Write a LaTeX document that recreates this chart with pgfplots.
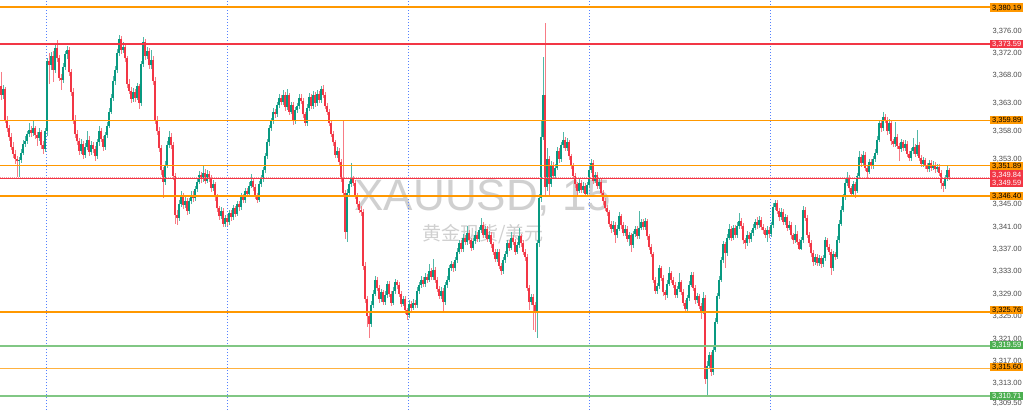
\documentclass[border=0pt]{standalone}
\usepackage{pgfplots}
\pgfplotsset{compat=1.18}
\usepackage{pgfplotstable}
\usepackage{fontspec}
\setmainfont{Liberation Sans}
\newfontfamily\cjk{Noto Sans CJK SC}

\definecolor{upc}{HTML}{089981}
\definecolor{dnc}{HTML}{F23645}
\definecolor{lvlorange}{HTML}{FF9800}
\definecolor{lvlred}{HTML}{F23645}
\definecolor{lvlgreen}{HTML}{81C784}
\definecolor{lblgreen}{HTML}{4CAF50}
\definecolor{sess}{HTML}{2962FF}
\definecolor{wm}{HTML}{D0D0D0}

% XAUUSD 15m candles: index, open, high, low, close
\pgfplotstableread{
i o h l c
0 3366.0 3368.5 3363.6 3364.5
1 3364.5 3366.2 3363.8 3365.5
2 3365.5 3365.9 3359.4 3360.0
3 3360.0 3360.8 3357.9 3358.5
4 3358.5 3359.2 3356.3 3357.0
5 3357.0 3357.6 3354.6 3355.2
6 3355.2 3356.1 3353.2 3354.0
7 3354.0 3354.7 3352.2 3353.0
8 3353.0 3353.6 3349.8 3352.6
9 3352.6 3353.4 3349.9 3352.8
10 3352.8 3354.8 3352.3 3354.2
11 3354.2 3356.4 3353.7 3355.8
12 3355.8 3357.1 3355.2 3356.3
13 3356.3 3358.0 3355.8 3357.5
14 3357.5 3359.5 3357.0 3358.2
15 3358.2 3358.9 3356.9 3357.6
16 3357.6 3360.0 3357.1 3358.5
17 3358.5 3359.0 3356.6 3357.3
18 3357.3 3357.9 3355.4 3356.8
19 3356.8 3358.6 3356.2 3357.8
20 3357.8 3358.3 3354.9 3355.5
21 3355.5 3356.2 3353.9 3354.9
22 3354.9 3358.6 3354.3 3358.0
23 3358.0 3371.0 3357.2 3370.5
24 3370.5 3372.0 3366.5 3369.8
25 3369.8 3372.2 3369.0 3371.5
26 3371.5 3372.4 3366.8 3369.0
27 3369.0 3373.4 3368.4 3372.8
28 3372.8 3374.3 3370.3 3371.0
29 3371.0 3371.6 3366.9 3367.5
30 3367.5 3368.3 3365.3 3367.2
31 3367.2 3370.2 3366.6 3369.5
32 3369.5 3372.3 3369.0 3371.8
33 3371.8 3373.3 3370.9 3372.5
34 3372.5 3373.0 3367.8 3368.5
35 3368.5 3369.2 3364.3 3365.0
36 3365.0 3365.8 3359.3 3360.0
37 3360.0 3360.9 3356.8 3357.5
38 3357.5 3358.2 3355.5 3356.2
39 3356.2 3356.8 3353.8 3354.5
40 3354.5 3356.6 3354.0 3355.8
41 3355.8 3356.3 3353.1 3353.8
42 3353.8 3355.9 3353.3 3355.2
43 3355.2 3358.0 3354.6 3356.5
44 3356.5 3357.1 3353.6 3354.3
45 3354.3 3356.2 3353.7 3355.5
46 3355.5 3356.0 3354.1 3354.8
47 3354.8 3355.3 3352.6 3353.5
48 3353.5 3356.7 3353.0 3356.0
49 3356.0 3358.9 3355.4 3358.0
50 3358.0 3358.6 3356.0 3356.6
51 3356.6 3357.2 3354.5 3355.2
52 3355.2 3357.9 3354.7 3357.3
53 3357.3 3359.6 3356.8 3359.0
54 3359.0 3362.2 3358.5 3361.5
55 3361.5 3364.6 3361.0 3364.0
56 3364.0 3367.8 3363.4 3367.0
57 3367.0 3369.7 3366.3 3369.0
58 3369.0 3372.6 3368.4 3372.0
59 3372.0 3375.1 3371.4 3374.5
60 3374.5 3375.0 3371.8 3372.5
61 3372.5 3373.9 3371.9 3373.0
62 3373.0 3373.6 3370.3 3371.0
63 3371.0 3371.5 3365.8 3366.5
64 3366.5 3367.3 3364.6 3365.2
65 3365.2 3365.9 3363.0 3363.8
66 3363.8 3365.8 3363.2 3365.0
67 3365.0 3365.6 3363.3 3364.0
68 3364.0 3366.7 3363.5 3366.0
69 3366.0 3366.5 3362.0 3363.0
70 3363.0 3370.6 3362.5 3370.0
71 3370.0 3374.8 3369.4 3374.0
72 3374.0 3374.5 3370.8 3371.5
73 3371.5 3373.0 3370.9 3372.3
74 3372.3 3372.8 3369.1 3369.8
75 3369.8 3372.5 3369.2 3370.8
76 3370.8 3371.4 3366.3 3367.0
77 3367.0 3367.6 3359.3 3360.0
78 3360.0 3360.8 3357.3 3358.0
79 3358.0 3358.7 3354.3 3355.0
80 3355.0 3355.6 3350.2 3351.0
81 3351.0 3351.7 3346.0 3349.0
82 3349.0 3352.7 3348.4 3352.0
83 3352.0 3356.2 3351.5 3355.5
84 3355.5 3358.0 3355.0 3357.0
85 3357.0 3357.6 3354.8 3355.5
86 3355.5 3356.1 3349.3 3350.0
87 3350.0 3350.6 3341.5 3343.0
88 3343.0 3343.9 3341.2 3342.5
89 3342.5 3345.7 3342.0 3345.0
90 3345.0 3347.3 3344.4 3346.5
91 3346.5 3347.0 3344.1 3344.8
92 3344.8 3346.2 3344.2 3345.5
93 3345.5 3346.0 3343.1 3343.8
94 3343.8 3346.1 3343.2 3345.5
95 3345.5 3347.4 3345.0 3346.7
96 3346.7 3347.3 3345.4 3346.0
97 3346.0 3348.3 3345.5 3347.6
98 3347.6 3349.7 3347.1 3349.0
99 3349.0 3350.9 3348.5 3350.2
100 3350.2 3350.8 3348.8 3349.5
101 3349.5 3351.9 3349.0 3350.6
102 3350.6 3351.2 3348.6 3349.2
103 3349.2 3351.0 3348.7 3350.4
104 3350.4 3350.9 3349.0 3349.6
105 3349.6 3350.1 3347.2 3347.8
106 3347.8 3349.3 3347.3 3348.5
107 3348.5 3349.0 3345.6 3346.2
108 3346.2 3346.8 3343.6 3344.2
109 3344.2 3344.7 3342.1 3342.8
110 3342.8 3344.5 3342.3 3343.8
111 3343.8 3344.3 3340.9 3341.5
112 3341.5 3343.1 3340.9 3342.5
113 3342.5 3343.0 3341.1 3341.8
114 3341.8 3344.0 3341.3 3343.4
115 3343.4 3343.9 3342.0 3342.6
116 3342.6 3344.9 3342.1 3344.2
117 3344.2 3344.7 3342.7 3343.3
118 3343.3 3345.6 3342.8 3345.0
119 3345.0 3345.5 3343.8 3344.4
120 3344.4 3346.9 3343.9 3346.3
121 3346.3 3346.8 3345.1 3345.7
122 3345.7 3347.9 3345.2 3347.3
123 3347.3 3347.8 3346.2 3346.8
124 3346.8 3348.9 3346.3 3348.3
125 3348.3 3350.3 3347.8 3349.2
126 3349.2 3349.7 3347.4 3348.0
127 3348.0 3348.5 3345.9 3346.5
128 3346.5 3347.0 3345.2 3345.8
129 3345.8 3349.1 3345.3 3348.5
130 3348.5 3350.1 3348.0 3349.5
131 3349.5 3351.6 3349.0 3351.0
132 3351.0 3354.1 3350.5 3353.5
133 3353.5 3356.6 3353.0 3356.0
134 3356.0 3359.1 3355.4 3358.5
135 3358.5 3360.4 3358.0 3359.8
136 3359.8 3362.1 3359.3 3361.5
137 3361.5 3362.0 3360.4 3361.0
138 3361.0 3363.2 3360.5 3362.6
139 3362.6 3364.7 3362.1 3364.0
140 3364.0 3364.5 3362.6 3363.2
141 3363.2 3365.3 3362.7 3364.5
142 3364.5 3365.0 3361.7 3362.3
143 3362.3 3365.5 3361.8 3364.4
144 3364.4 3364.9 3360.9 3361.5
145 3361.5 3363.3 3361.0 3362.7
146 3362.7 3363.2 3359.2 3359.8
147 3359.8 3362.4 3359.3 3361.8
148 3361.8 3363.1 3361.3 3362.5
149 3362.5 3364.6 3362.0 3364.0
150 3364.0 3364.6 3362.8 3363.4
151 3363.4 3363.9 3360.4 3361.0
152 3361.0 3361.5 3358.9 3359.5
153 3359.5 3362.8 3359.0 3362.2
154 3362.2 3364.8 3361.7 3364.2
155 3364.2 3364.7 3361.9 3362.5
156 3362.5 3365.1 3362.0 3364.5
157 3364.5 3365.0 3362.4 3363.0
158 3363.0 3365.3 3362.5 3364.7
159 3364.7 3365.2 3363.0 3363.6
160 3363.6 3366.0 3363.1 3365.5
161 3365.5 3366.3 3363.9 3364.5
162 3364.5 3365.0 3361.9 3362.5
163 3362.5 3363.0 3360.9 3361.5
164 3361.5 3362.0 3358.9 3359.5
165 3359.5 3360.0 3356.9 3357.5
166 3357.5 3358.1 3355.4 3356.0
167 3356.0 3356.5 3353.2 3353.8
168 3353.8 3355.1 3353.3 3354.5
169 3354.5 3355.0 3351.9 3352.5
170 3352.5 3353.0 3348.9 3349.5
171 3349.5 3360.0 3346.4 3347.0
172 3347.0 3347.5 3338.8 3340.0
173 3340.0 3347.6 3338.2 3347.0
174 3347.0 3349.1 3346.5 3348.5
175 3348.5 3352.3 3348.0 3349.5
176 3349.5 3350.0 3348.2 3348.8
177 3348.8 3349.3 3345.9 3346.5
178 3346.5 3347.0 3344.4 3345.0
179 3345.0 3345.6 3343.4 3344.0
180 3344.0 3344.6 3342.8 3343.5
181 3343.5 3344.1 3333.2 3334.0
182 3334.0 3334.6 3327.3 3328.0
183 3328.0 3328.6 3323.0 3325.0
184 3325.0 3325.8 3321.0 3323.5
185 3323.5 3327.6 3323.0 3327.0
186 3327.0 3329.6 3326.4 3329.0
187 3329.0 3332.1 3328.5 3331.5
188 3331.5 3332.0 3329.4 3330.0
189 3330.0 3330.6 3327.4 3328.0
190 3328.0 3329.8 3327.5 3329.2
191 3329.2 3329.7 3326.9 3327.5
192 3327.5 3329.4 3327.0 3328.8
193 3328.8 3331.3 3328.3 3330.7
194 3330.7 3331.2 3328.4 3329.0
195 3329.0 3329.5 3326.8 3327.4
196 3327.4 3330.1 3326.9 3329.5
197 3329.5 3331.6 3329.0 3331.0
198 3331.0 3331.5 3329.9 3330.5
199 3330.5 3331.0 3328.4 3329.0
200 3329.0 3329.5 3326.6 3327.2
201 3327.2 3328.6 3326.7 3328.0
202 3328.0 3328.5 3325.4 3326.0
203 3326.0 3326.5 3324.3 3325.2
204 3325.2 3327.8 3324.7 3327.2
205 3327.2 3327.7 3325.9 3326.5
206 3326.5 3328.0 3326.0 3327.4
207 3327.4 3327.9 3326.4 3327.0
208 3327.0 3330.1 3326.5 3329.5
209 3329.5 3331.1 3329.0 3330.5
210 3330.5 3332.1 3330.0 3331.5
211 3331.5 3332.0 3330.1 3330.7
212 3330.7 3332.6 3330.2 3332.0
213 3332.0 3332.5 3330.9 3331.5
214 3331.5 3334.2 3331.0 3333.0
215 3333.0 3333.5 3331.4 3332.0
216 3332.0 3335.2 3331.5 3333.2
217 3333.2 3333.7 3330.9 3331.5
218 3331.5 3332.0 3329.2 3329.8
219 3329.8 3330.3 3328.0 3328.6
220 3328.6 3330.1 3328.1 3329.5
221 3329.5 3330.0 3325.9 3327.5
222 3327.5 3331.1 3327.0 3330.5
223 3330.5 3332.1 3330.0 3331.5
224 3331.5 3334.1 3331.0 3333.5
225 3333.5 3334.8 3333.0 3334.2
226 3334.2 3334.7 3332.9 3333.5
227 3333.5 3335.6 3333.0 3335.0
228 3335.0 3337.1 3334.5 3336.5
229 3336.5 3338.6 3336.0 3338.0
230 3338.0 3338.5 3336.4 3337.0
231 3337.0 3339.6 3336.5 3339.0
232 3339.0 3339.5 3337.6 3338.2
233 3338.2 3341.0 3337.7 3339.8
234 3339.8 3340.3 3337.9 3338.5
235 3338.5 3339.0 3336.6 3337.2
236 3337.2 3339.0 3336.7 3338.4
237 3338.4 3340.1 3337.9 3339.5
238 3339.5 3340.0 3338.2 3338.8
239 3338.8 3340.9 3338.3 3340.3
240 3340.3 3342.5 3339.8 3341.3
241 3341.3 3341.8 3338.9 3339.5
242 3339.5 3341.1 3339.0 3340.5
243 3340.5 3341.0 3338.2 3338.8
244 3338.8 3340.1 3338.3 3339.5
245 3339.5 3340.0 3337.2 3337.8
246 3337.8 3338.3 3335.9 3336.5
247 3336.5 3337.0 3334.6 3335.2
248 3335.2 3337.0 3334.7 3336.4
249 3336.4 3336.9 3333.4 3334.0
250 3334.0 3334.5 3332.3 3333.0
251 3333.0 3335.6 3332.5 3335.0
252 3335.0 3336.6 3334.5 3336.0
253 3336.0 3338.6 3335.5 3338.0
254 3338.0 3338.5 3336.6 3337.2
255 3337.2 3340.0 3336.7 3339.0
256 3339.0 3339.5 3337.6 3338.2
257 3338.2 3338.7 3335.9 3336.5
258 3336.5 3338.3 3336.0 3337.7
259 3337.7 3340.8 3337.2 3339.2
260 3339.2 3339.7 3337.4 3338.0
261 3338.0 3338.5 3335.9 3336.5
262 3336.5 3337.0 3334.9 3335.5
263 3335.5 3336.0 3329.4 3330.0
264 3330.0 3330.5 3326.0 3327.5
265 3327.5 3329.0 3327.0 3328.4
266 3328.4 3328.9 3322.5 3327.0
267 3327.0 3327.5 3322.2 3325.5
268 3325.5 3338.6 3321.0 3338.0
269 3338.0 3346.8 3337.4 3346.0
270 3346.0 3360.0 3345.4 3357.0
271 3357.0 3371.3 3356.4 3364.5
272 3364.5 3377.4 3346.5 3348.0
273 3348.0 3355.0 3347.4 3353.0
274 3353.0 3353.6 3346.5 3348.6
275 3348.6 3352.6 3348.0 3352.0
276 3352.0 3352.5 3349.4 3350.0
277 3350.0 3352.1 3349.5 3351.5
278 3351.5 3355.1 3351.0 3354.5
279 3354.5 3355.0 3352.4 3353.0
280 3353.0 3356.1 3352.5 3355.5
281 3355.5 3357.8 3355.0 3356.5
282 3356.5 3357.0 3354.4 3355.0
283 3355.0 3356.8 3354.5 3356.0
284 3356.0 3356.5 3352.9 3353.5
285 3353.5 3354.0 3351.2 3351.8
286 3351.8 3352.3 3349.4 3350.0
287 3350.0 3350.5 3347.9 3348.5
288 3348.5 3349.0 3346.6 3347.4
289 3347.4 3349.4 3346.9 3348.8
290 3348.8 3349.3 3346.9 3347.5
291 3347.5 3348.9 3347.0 3348.3
292 3348.3 3348.8 3346.2 3346.8
293 3346.8 3349.0 3346.3 3348.4
294 3348.4 3351.6 3347.9 3351.0
295 3351.0 3353.0 3350.5 3352.3
296 3352.3 3352.8 3348.6 3349.2
297 3349.2 3350.8 3348.7 3350.2
298 3350.2 3350.7 3347.6 3348.2
299 3348.2 3349.6 3347.7 3349.0
300 3349.0 3349.5 3346.4 3347.0
301 3347.0 3347.5 3344.9 3345.5
302 3345.5 3346.0 3343.7 3344.3
303 3344.3 3344.8 3342.9 3343.5
304 3343.5 3344.0 3340.9 3341.5
305 3341.5 3342.0 3339.9 3340.5
306 3340.5 3341.9 3340.0 3341.3
307 3341.3 3341.8 3338.0 3339.4
308 3339.4 3341.2 3338.9 3340.6
309 3340.6 3343.5 3340.1 3342.8
310 3342.8 3343.3 3340.6 3341.2
311 3341.2 3341.7 3339.2 3339.8
312 3339.8 3341.2 3339.3 3340.6
313 3340.6 3341.1 3338.2 3338.8
314 3338.8 3340.0 3337.5 3339.4
315 3339.4 3339.9 3336.4 3337.6
316 3337.6 3340.2 3337.1 3339.6
317 3339.6 3341.1 3339.1 3340.5
318 3340.5 3341.0 3338.7 3339.3
319 3339.3 3343.8 3338.8 3340.8
320 3340.8 3342.4 3340.3 3341.8
321 3341.8 3342.3 3340.3 3340.9
322 3340.9 3342.5 3340.4 3341.9
323 3341.9 3342.4 3338.6 3339.2
324 3339.2 3339.7 3336.8 3337.4
325 3337.4 3337.9 3335.5 3336.0
326 3336.0 3336.5 3330.9 3331.5
327 3331.5 3332.0 3328.9 3329.5
328 3329.5 3330.9 3329.0 3330.3
329 3330.3 3334.1 3329.8 3333.5
330 3333.5 3334.0 3331.2 3331.8
331 3331.8 3332.3 3328.6 3329.2
332 3329.2 3329.7 3327.8 3328.8
333 3328.8 3331.4 3328.3 3330.8
334 3330.8 3333.8 3330.3 3332.6
335 3332.6 3333.1 3330.9 3331.5
336 3331.5 3332.0 3330.0 3330.6
337 3330.6 3331.1 3328.2 3328.8
338 3328.8 3330.4 3328.3 3329.8
339 3329.8 3332.6 3329.3 3331.0
340 3331.0 3331.5 3328.7 3329.3
341 3329.3 3329.8 3326.8 3327.4
342 3327.4 3327.9 3325.6 3326.3
343 3326.3 3328.8 3325.8 3328.2
344 3328.2 3331.2 3327.7 3330.6
345 3330.6 3332.9 3330.1 3332.3
346 3332.3 3332.8 3329.4 3330.0
347 3330.0 3330.5 3327.2 3327.8
348 3327.8 3329.1 3327.3 3328.5
349 3328.5 3329.0 3326.2 3326.8
350 3326.8 3327.3 3324.5 3325.8
351 3325.8 3329.3 3325.3 3328.3
352 3328.3 3328.8 3312.8 3313.8
353 3313.8 3317.0 3310.5 3316.0
354 3316.0 3318.6 3315.5 3318.0
355 3318.0 3318.5 3314.2 3315.0
356 3315.0 3319.6 3314.5 3319.0
357 3319.0 3324.6 3318.5 3324.0
358 3324.0 3329.1 3323.5 3328.5
359 3328.5 3332.1 3328.0 3331.5
360 3331.5 3335.6 3331.0 3335.0
361 3335.0 3338.4 3334.5 3337.8
362 3337.8 3338.3 3333.5 3336.2
363 3336.2 3339.6 3335.7 3339.0
364 3339.0 3341.5 3338.5 3340.5
365 3340.5 3341.0 3338.4 3339.0
366 3339.0 3341.3 3338.5 3340.7
367 3340.7 3341.2 3338.9 3339.5
368 3339.5 3341.7 3339.0 3341.1
369 3341.1 3343.4 3340.6 3342.0
370 3342.0 3342.5 3340.5 3341.1
371 3341.1 3341.6 3337.9 3338.5
372 3338.5 3339.0 3337.0 3338.0
373 3338.0 3340.1 3337.5 3339.5
374 3339.5 3340.0 3338.1 3338.7
375 3338.7 3340.4 3338.2 3339.8
376 3339.8 3341.4 3339.3 3340.8
377 3340.8 3342.4 3340.3 3341.8
378 3341.8 3342.6 3340.6 3341.2
379 3341.2 3342.8 3340.7 3342.2
380 3342.2 3342.7 3340.3 3340.9
381 3340.9 3341.4 3339.7 3340.3
382 3340.3 3340.8 3338.9 3339.5
383 3339.5 3341.0 3338.3 3340.4
384 3340.4 3340.9 3339.0 3339.6
385 3339.6 3341.8 3339.1 3341.2
386 3341.2 3345.1 3340.7 3344.5
387 3344.5 3345.8 3344.0 3345.2
388 3345.2 3345.7 3343.2 3343.8
389 3343.8 3344.3 3342.0 3342.6
390 3342.6 3344.2 3342.1 3343.6
391 3343.6 3344.1 3341.2 3341.8
392 3341.8 3343.2 3341.3 3342.6
393 3342.6 3343.1 3340.2 3340.8
394 3340.8 3341.9 3340.3 3341.3
395 3341.3 3341.8 3338.8 3339.4
396 3339.4 3339.9 3337.9 3338.5
397 3338.5 3341.3 3338.0 3339.6
398 3339.6 3340.1 3337.6 3338.2
399 3338.2 3338.7 3336.8 3337.0
400 3337.0 3339.1 3336.8 3338.5
401 3338.5 3344.6 3338.0 3344.0
402 3344.0 3344.5 3341.9 3342.5
403 3342.5 3343.0 3338.9 3339.5
404 3339.5 3340.0 3337.4 3338.0
405 3338.0 3338.5 3335.6 3336.2
406 3336.2 3336.7 3334.0 3334.6
407 3334.6 3336.1 3334.1 3335.5
408 3335.5 3336.0 3333.9 3334.5
409 3334.5 3335.9 3334.0 3335.3
410 3335.3 3335.8 3333.5 3334.2
411 3334.2 3335.9 3333.7 3335.3
412 3335.3 3339.1 3334.8 3338.5
413 3338.5 3339.0 3336.8 3337.4
414 3337.4 3337.9 3335.9 3336.5
415 3336.5 3337.0 3332.4 3333.6
416 3333.6 3336.6 3333.1 3336.0
417 3336.0 3336.5 3335.0 3335.6
418 3335.6 3339.2 3335.1 3338.6
419 3338.6 3342.1 3338.1 3341.5
420 3341.5 3344.6 3341.0 3344.0
421 3344.0 3346.8 3343.5 3346.2
422 3346.2 3349.4 3345.7 3348.8
423 3348.8 3350.8 3348.3 3349.6
424 3349.6 3350.1 3347.2 3347.8
425 3347.8 3348.3 3346.2 3346.8
426 3346.8 3349.1 3346.3 3348.5
427 3348.5 3349.0 3346.0 3347.4
428 3347.4 3350.6 3346.9 3350.0
429 3350.0 3354.5 3349.5 3353.4
430 3353.4 3353.9 3351.7 3352.3
431 3352.3 3354.4 3351.8 3353.8
432 3353.8 3354.3 3350.9 3351.5
433 3351.5 3352.0 3349.5 3350.8
434 3350.8 3353.1 3350.3 3352.5
435 3352.5 3353.0 3351.2 3351.8
436 3351.8 3353.6 3351.3 3353.0
437 3353.0 3354.8 3352.5 3354.2
438 3354.2 3357.1 3353.7 3356.5
439 3356.5 3360.0 3356.0 3359.4
440 3359.4 3359.9 3357.9 3358.5
441 3358.5 3361.5 3358.0 3360.5
442 3360.5 3361.0 3359.4 3360.0
443 3360.0 3360.5 3357.4 3358.0
444 3358.0 3360.1 3357.5 3359.5
445 3359.5 3360.0 3355.6 3356.2
446 3356.2 3356.7 3355.1 3355.7
447 3355.7 3359.6 3355.2 3357.0
448 3357.0 3357.5 3354.8 3355.4
449 3355.4 3355.9 3352.6 3354.8
450 3354.8 3356.6 3354.3 3356.0
451 3356.0 3356.5 3354.4 3355.0
452 3355.0 3356.4 3354.5 3355.8
453 3355.8 3356.3 3353.4 3354.0
454 3354.0 3354.5 3352.6 3353.2
455 3353.2 3355.0 3352.7 3354.4
456 3354.4 3356.8 3353.9 3355.2
457 3355.2 3355.7 3353.4 3354.0
458 3354.0 3358.2 3353.5 3355.5
459 3355.5 3356.0 3352.7 3353.3
460 3353.3 3353.8 3351.6 3352.2
461 3352.2 3353.4 3351.7 3352.8
462 3352.8 3353.3 3351.2 3351.8
463 3351.8 3352.3 3350.7 3351.3
464 3351.3 3352.9 3350.8 3352.3
465 3352.3 3352.8 3350.9 3351.5
466 3351.5 3352.6 3351.0 3352.0
467 3352.0 3352.5 3350.6 3351.2
468 3351.2 3352.2 3350.7 3351.6
469 3351.6 3352.1 3350.0 3350.6
470 3350.6 3351.1 3347.6 3348.7
471 3348.7 3349.2 3347.2 3348.2
472 3348.2 3350.2 3347.7 3349.6
473 3349.6 3352.0 3349.1 3351.0
474 3351.0 3351.5 3349.3 3349.8
}\candles

\tikzset{lvl/.style={inner xsep=0pt, inner ysep=0pt, minimum width=33pt, minimum height=8.5pt,
  text depth=0pt, anchor=west, font=\fontsize{7.5}{8}\selectfont}}

\begin{document}
\begin{tikzpicture}[x=1pt,y=1pt]
\fill[white] (0,0) rectangle (1024,410);
\begin{axis}[
  at={(0,0)}, anchor=south west,
  scale only axis, width=990pt, height=410pt,
  xmin=-0.5, xmax=494.5, ymin=3308.21, ymax=3381.44,
  axis line style={draw=none},
  xtick=\empty,
  ytick={3309.5,3313,3317,3321,3325,3329,3333,3337,3341,3345,3353,3358,3363,3368,3372,3376},
  yticklabel pos=right,
  major tick length=0pt,
  yticklabel style={font=\fontsize{7.5}{8}\selectfont, text=black!70,
    anchor=east, inner sep=0pt, text depth=0pt, xshift=32pt,
    /pgf/number format/fixed, /pgf/number format/fixed zerofill,
    /pgf/number format/precision=2, /pgf/number format/1000 sep={,},
    /pgf/number format/assume math mode=true},
]
% watermark
\node[font=\fontsize{44}{44}\selectfont, text=wm] at (axis cs:241,3346.1) {XAUUSD, 15};
\node[font=\cjk\fontsize{19}{19}\selectfont, text=wm] at (axis cs:241,3339.7) {黄金现货/美元};

% session separators
\foreach \s in {22.5,113,203.5,294,384.5}{
  \edef\tmp{\noexpand\addplot[sess!80, line width=0.9pt, dash pattern=on 1.2pt off 1.8pt, forget plot]
    coordinates {(\s,3308.21) (\s,3381.44)};}
  \tmp
}

% wicks
\addplot[draw=none, mark=none, forget plot,
  y filter/.expression={\thisrow{c}<\thisrow{o} ? nan : y},
  error bars/.cd, y dir=both, y explicit, error mark=none,
  error bar style={line width=0.8pt, draw=upc!70!white}]
  table[x=i, y=c, y error plus expr=\thisrow{h}-\thisrow{c}, y error minus expr=\thisrow{c}-\thisrow{l}] {\candles};
\addplot[draw=none, mark=none, forget plot,
  y filter/.expression={\thisrow{c}<\thisrow{o} ? y : nan},
  error bars/.cd, y dir=both, y explicit, error mark=none,
  error bar style={line width=0.8pt, draw=dnc!65!white}]
  table[x=i, y=c, y error plus expr=\thisrow{h}-\thisrow{c}, y error minus expr=\thisrow{c}-\thisrow{l}] {\candles};
% bodies
\addplot[draw=none, mark=none, forget plot,
  y filter/.expression={\thisrow{c}<\thisrow{o} ? nan : y},
  error bars/.cd, y dir=minus, y explicit, error mark=none,
  error bar style={line width=1.5pt, draw=upc}]
  table[x=i, y=c, y error minus expr=\thisrow{c}-\thisrow{o}] {\candles};
\addplot[draw=none, mark=none, forget plot,
  y filter/.expression={\thisrow{c}<\thisrow{o} ? y : nan},
  error bars/.cd, y dir=plus, y explicit, error mark=none,
  error bar style={line width=1.5pt, draw=dnc}]
  table[x=i, y=c, y error plus expr=\thisrow{o}-\thisrow{c}] {\candles};

% horizontal levels
\addplot[draw=lvlorange, line width=1.6pt] coordinates {(-0.5,3380.19) (494.5,3380.19)};
\addplot[draw=lvlred, line width=1.6pt] coordinates {(-0.5,3373.59) (494.5,3373.59)};
\addplot[draw=lvlorange, line width=1.6pt] coordinates {(-0.5,3359.89) (494.5,3359.89)};
\addplot[draw=lvlorange, line width=1.6pt] coordinates {(-0.5,3351.89) (494.5,3351.89)};
\addplot[draw=lvlred!50, line width=0.8pt, dash pattern=on 1pt off 1pt] coordinates {(-0.5,3349.84) (494.5,3349.84)};
\addplot[draw=lvlred, line width=1.6pt] coordinates {(-0.5,3349.59) (494.5,3349.59)};
\addplot[draw=lvlorange, line width=1.6pt] coordinates {(-0.5,3346.40) (494.5,3346.40)};
\addplot[draw=lvlorange, line width=1.6pt] coordinates {(-0.5,3325.76) (494.5,3325.76)};
\addplot[draw=lvlgreen, line width=1.6pt] coordinates {(-0.5,3319.59) (494.5,3319.59)};
\addplot[draw=lvlorange!75, line width=1.6pt] coordinates {(-0.5,3315.60) (494.5,3315.60)};
\addplot[draw=lvlgreen, line width=1.6pt] coordinates {(-0.5,3310.71) (494.5,3310.71)};
\end{axis}

% price labels of the levels on the right scale
\node[lvl, fill=lvlorange, text=black] at (990,402.5) {3,380.19};
\node[lvl, fill=lvlred, text=white] at (990,366) {3,373.59};
\node[lvl, fill=lvlorange, text=black] at (990,290) {3,359.89};
\node[lvl, fill=lvlorange, text=black] at (990,244) {3,351.89};
\node[lvl, fill=lvlred, text=white] at (990,235.5) {3,349.84};
\node[lvl, fill=lvlred, text=white] at (990,227) {3,349.59};
\node[lvl, fill=lvlorange, text=black] at (990,214) {3,346.40};
\node[lvl, fill=lvlorange, text=black] at (990,100) {3,325.76};
\node[lvl, fill=lblgreen, text=white] at (990,65) {3,319.59};
\node[lvl, fill=lvlorange, text=black] at (990,43) {3,315.60};
\node[lvl, fill=lblgreen, text=white] at (990,14) {3,310.71};

\pgfresetboundingbox
\useasboundingbox (0,0) rectangle (1024,410);
\end{tikzpicture}
\end{document}
